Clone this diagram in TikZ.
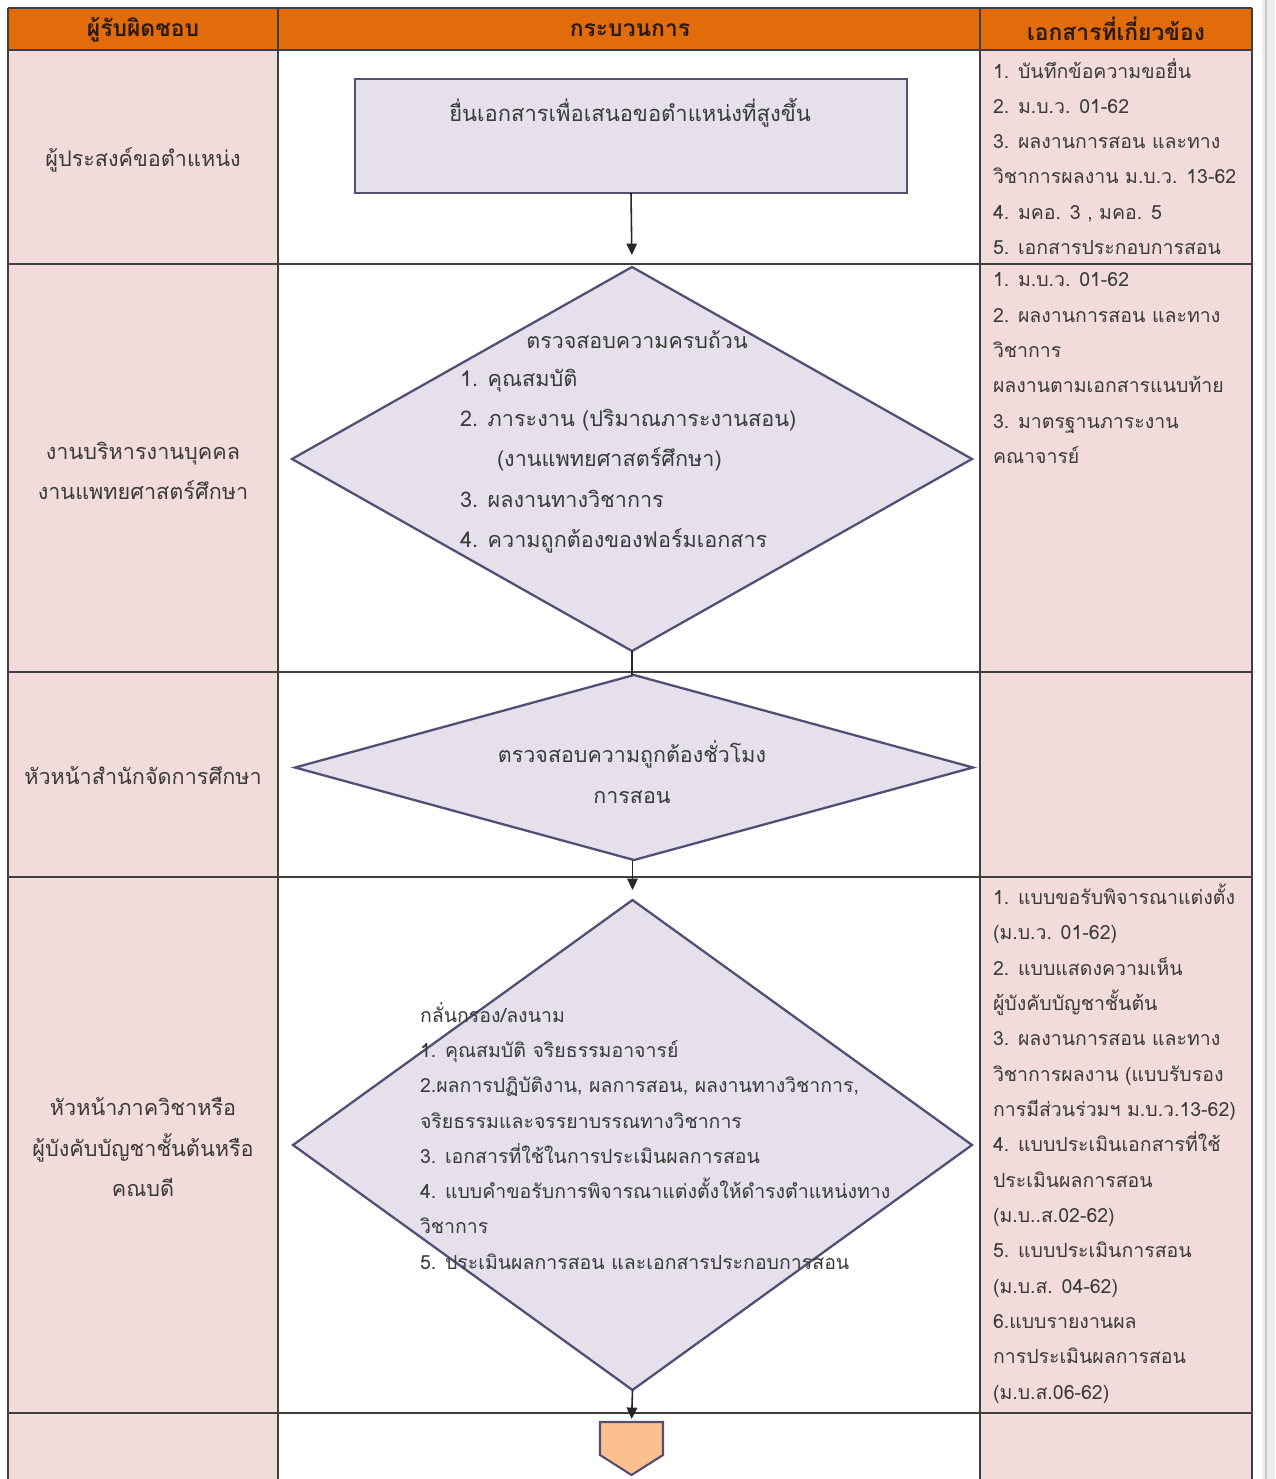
\documentclass[tikz,border=0pt]{standalone}
\usepackage{fontspec}
\newfontfamily\thaifont[Script=Thai]{Loma}
\usetikzlibrary{shapes.geometric,arrows.meta}
\definecolor{hdr}{HTML}{E26B0A}
\definecolor{pinkc}{HTML}{F2DCDB}
\definecolor{lav}{HTML}{E5E0EC}
\definecolor{edgec}{HTML}{544E74}
\definecolor{gridc}{HTML}{3F3F3F}
\definecolor{txt}{HTML}{3A3A3A}
\definecolor{hdrtxt}{HTML}{2A1A10}
\definecolor{penta}{HTML}{FAC090}
\definecolor{sidegray}{HTML}{EDEDED}
\newlength\pxu \setlength\pxu{0.02cm}
\begin{document}
\begin{tikzpicture}[x=0.02cm,y=-0.02cm,
  every node/.style={font=\thaifont\fontsize{12}{20.1}\selectfont, text=txt, inner sep=0pt, outer sep=0pt},
  gridline/.style={draw=gridc, line width=0.9pt},
  hdrlabel/.style={font=\thaifont\bfseries\fontsize{13}{16}\selectfont, text=hdrtxt},
  rolelabel/.style={align=center, font=\thaifont\fontsize{12.3}{22.8}\selectfont},
  doclist/.style={align=left, anchor=north west, font=\thaifont\fontsize{11.1}{20.1}\selectfont},
  procbox/.style={draw=edgec, fill=lav, line width=1.4pt, rectangle},
  decision/.style={draw=edgec, fill=lav, line width=1.3pt, diamond, aspect=1},
  flow/.style={draw=black!85, line width=0.9pt, -{Triangle[length=6.5pt,width=6pt]}},
  plainflow/.style={draw=black!85, line width=0.9pt}
]
\useasboundingbox (0,0) rectangle (1275,1479);
\clip (0,0) rectangle (1275,1479);
% backgrounds
\fill[white] (0,0) rectangle (1275,1479);
\fill[sidegray] (1262,0) rectangle (1275,1479);
\draw[black!20, line width=0.6pt] (1266,0) -- (1266,1479);
\fill[pinkc] (8,50) rectangle (278,1479);
\fill[pinkc] (980,50) rectangle (1252,1479);
\fill[hdr] (8,8) rectangle (1252,50);
% grid
\foreach \gx in {8,278,980,1252} \draw[gridline] (\gx,8) -- (\gx,1479);
\foreach \gy in {8,50,264,672,877,1413} \draw[gridline] (8,\gy) -- (1252,\gy);
% header
\node[hdrlabel] (h1) at (143,30) {ผู้รับผิดชอบ};
\node[hdrlabel] (h2) at (630,30) {กระบวนการ};
\node[hdrlabel] (h3) at (1116,29) {เอกสารที่เกี่ยวข้อง};
% roles
\node[rolelabel] (r1) at (143,160) {ผู้ประสงค์ขอตำแหน่ง};
\node[rolelabel] (r2) at (143,471) {งานบริหารงานบุคคล\\งานแพทยศาสตร์ศึกษา};
\node[rolelabel] (r3) at (143,776) {หัวหน้าสำนักจัดการศึกษา};
\node[rolelabel] (r4) at (143,1147) {หัวหน้าภาควิชาหรือ\\ผู้บังคับบัญชาชั้นต้นหรือ\\คณบดี};
% documents
\node[doclist] (doc1) at (993,58) {1. บันทึกข้อความขอยื่น\\2. ม.บ.ว. 01-62\\3. ผลงานการสอน และทาง\\วิชาการผลงาน ม.บ.ว. 13-62\\4. มคอ. 3 , มคอ. 5\\5. เอกสารประกอบการสอน};
\node[doclist] (doc2) at (993,273) {1. ม.บ.ว. 01-62\\2. ผลงานการสอน และทาง\\วิชาการ\\ผลงานตามเอกสารแนบท้าย\\3. มาตรฐานภาระงาน\\คณาจารย์};
\node[doclist] (doc4) at (993,884) {1. แบบขอรับพิจารณาแต่งตั้ง\\(ม.บ.ว. 01-62)\\2. แบบแสดงความเห็น\\ผู้บังคับบัญชาชั้นต้น\\3. ผลงานการสอน และทาง\\วิชาการผลงาน (แบบรับรอง\\การมีส่วนร่วมฯ ม.บ.ว.13-62)\\4. แบบประเมินเอกสารที่ใช้\\ประเมินผลการสอน\\(ม.บ..ส.02-62)\\5. แบบประเมินการสอน\\(ม.บ.ส. 04-62)\\6.แบบรายงานผล\\การประเมินผลการสอน\\(ม.บ.ส.06-62)};
% process shapes
\node[procbox, minimum width=552\pxu, minimum height=114\pxu] (box) at (631,136) {};
\node[font=\thaifont\fontsize{12.5}{20}\selectfont] (boxtext) at (630,113) {ยื่นเอกสารเพื่อเสนอขอตำแหน่งที่สูงขึ้น};
\node[decision, minimum width=680\pxu, minimum height=384\pxu] (d1) at (632,459) {};
\node[decision, minimum width=678\pxu, minimum height=185\pxu] (d2) at (634,767.5) {};
\node[decision, minimum width=679\pxu, minimum height=490\pxu] (d3) at (632.5,1145) {};
\fill[penta, draw=edgec, line width=1.2pt] (600,1422) -- (663,1422) -- (663,1455) -- (631.5,1475) -- (600,1455) -- cycle;
\coordinate (pent) at (631.5,1422);
% connectors
\draw[flow, shorten >=12\pxu] (box.south) -- (d1.north);
\draw[plainflow] (d1.south) -- (d1.south |- d2.north);
\draw[flow, shorten >=10\pxu] (d2.south -| d3.north) -- (d3.north);
\draw[flow, shorten >=3\pxu] (d3.south) -- (pent);
% decision texts
\node[font=\thaifont\fontsize{12.2}{20}\selectfont] (d1title) at (637,340) {ตรวจสอบความครบถ้วน};
\node[doclist, font=\thaifont\fontsize{12.3}{22.9}\selectfont] (d1items) at (460,369) {1. คุณสมบัติ\\2. ภาระงาน (ปริมาณภาระงานสอน)\\\hspace*{37\pxu}(งานแพทยศาสตร์ศึกษา)\\3. ผลงานทางวิชาการ\\4. ความถูกต้องของฟอร์มเอกสาร};
\node[align=center, font=\thaifont\fontsize{12.2}{23.2}\selectfont] (d2text) at (632,772) {ตรวจสอบความถูกต้องชั่วโมง\\การสอน};
\node[doclist] (d3items) at (420,1002) {กลั่นกรอง/ลงนาม\\1. คุณสมบัติ จริยธรรมอาจารย์\\2.ผลการปฏิบัติงาน, ผลการสอน, ผลงานทางวิชาการ,\\จริยธรรมและจรรยาบรรณทางวิชาการ\\3. เอกสารที่ใช้ในการประเมินผลการสอน\\4. แบบคำขอรับการพิจารณาแต่งตั้งให้ดำรงตำแหน่งทาง\\วิชาการ\\5. ประเมินผลการสอน และเอกสารประกอบการสอน};
\end{tikzpicture}
\end{document}
